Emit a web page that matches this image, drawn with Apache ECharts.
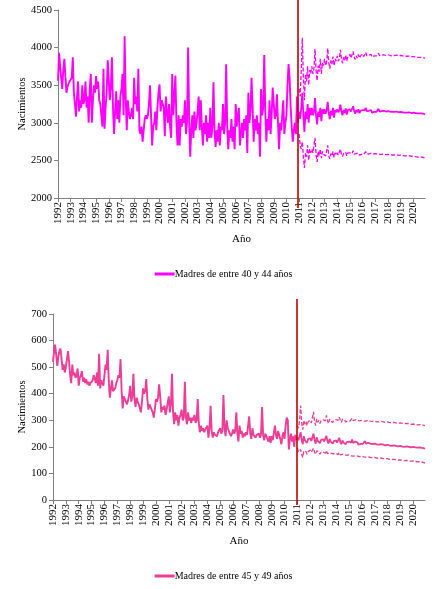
<!DOCTYPE html>
<html>
<head>
<meta charset="utf-8">
<script src="https://cdn.jsdelivr.net/npm/echarts@6/dist/echarts.min.js"></script>
<style>html,body{margin:0;padding:0;background:#fff}#c{width:447px;height:589px}</style>
</head>
<body>
<div id="c"></div>
<script>
// Years on the x axis (monthly categories Jan 1992 - Dec 2020)
const years = [1992,1993,1994,1995,1996,1997,1998,1999,2000,2001,2002,2003,2004,2005,2006,2007,2008,2009,2010,2011,2012,2013,2014,2015,2016,2017,2018,2019,2020];
const months = ['01','02','03','04','05','06','07','08','09','10','11','12'];
const cutCategory = '2010-12';

const yTicksTop = [2000, 2500, 3000, 3500, 4000, 4500];
const yTicksBottom = [0, 100, 200, 300, 400, 500, 600, 700];

const name40 = 'Madres de entre 40 y 44 años';
const name45 = 'Madres de entre 45 y 49 años';

// Observed births, mothers 40-44 (Jan 1992 - Dec 2010)
const hist40 = [
3560,3930,3750,3600,3450,3700,3850,3620,3400,3480,3520,3550,
3540,3600,3870,3400,3250,3080,3350,3550,3150,3300,3200,3500,
3250,3300,3550,3200,3350,3000,3450,3650,3000,3300,3500,3400,
3620,3450,3550,3300,3250,3100,2950,3720,2920,3200,3400,3830,
3830,3300,3500,3870,3200,2850,3150,3420,3050,3300,3000,3350,
3450,3650,3100,4150,3350,2900,3300,3150,3050,3100,3200,3050,
3600,3250,3350,3150,3720,2900,2850,2950,2750,2900,3050,3100,
3050,3100,3250,3500,3100,2700,2950,3000,3150,2900,3200,3400,
3510,3150,3300,3250,3200,2820,3350,3150,3000,3250,2950,2800,
3650,3100,3350,3630,3000,2700,3100,2700,3050,2950,3100,3000,
3300,2850,3000,4000,3050,2550,2900,3100,2800,3150,2900,3000,
3150,3350,2900,3300,2950,2700,3000,2850,3100,2750,3000,2800,
3200,2800,2950,3540,2900,2680,2900,2750,3000,2700,2950,2900,
3250,2850,3000,3780,2950,2650,2900,2800,3050,2750,2950,2650,
3250,2950,3100,3200,2700,2850,3000,2800,3050,2900,3100,2600,
3400,3000,3150,3600,3200,2750,3050,2900,3100,2850,3000,2550,
3450,3100,3200,3900,3150,2750,3050,2900,3300,2850,3100,3470,
3470,3050,3100,3380,3000,2650,3000,2900,3100,3300,2850,3000,
3100,3500,3780,3600,3200,2950,2750,2900,3000,2850,3350,3000
];
// Forecast 40-44 (Jan 2011 - Dec 2020): central, upper, lower
const med40 = [
3150,3050,3200,3400,3100,2880,3150,3050,3250,3000,3200,3100,
3200,3100,3150,3330,3100,2980,3150,3080,3200,3020,3180,3120,
3180,3120,3160,3280,3130,3050,3160,3100,3200,3070,3170,3140,
3180,3140,3170,3240,3150,3100,3170,3130,3190,3110,3170,3150,
3180,3150,3170,3220,3160,3120,3170,3140,3180,3130,3160,3150,
3170,3150,3165,3200,3155,3130,3160,3140,3170,3135,3155,3145,
3165,3145,3160,3185,3150,3135,3155,3140,3160,3135,3150,3140,
3155,3140,3150,3170,3145,3130,3145,3135,3150,3130,3140,3135,
3145,3135,3140,3155,3135,3125,3135,3128,3140,3122,3130,3125,
3135,3125,3130,3140,3125,3115,3125,3118,3125,3112,3118,3110
];
const up40 = [
3450,3350,3700,4130,3600,3300,3650,3550,3750,3500,3700,3650,
3750,3650,3720,3980,3700,3560,3760,3680,3850,3650,3800,3760,
3850,3760,3800,3990,3800,3720,3830,3780,3880,3760,3850,3820,
3890,3820,3850,3970,3850,3790,3870,3830,3900,3820,3880,3860,
3910,3860,3880,3950,3880,3840,3890,3860,3910,3860,3890,3880,
3915,3880,3895,3935,3890,3865,3900,3880,3910,3875,3895,3890,
3910,3890,3900,3925,3895,3880,3900,3885,3905,3880,3895,3890,
3905,3890,3895,3915,3890,3880,3895,3885,3900,3880,3890,3885,
3895,3885,3890,3900,3885,3875,3885,3878,3888,3872,3880,3875,
3880,3872,3876,3885,3870,3862,3870,3864,3870,3858,3862,3858
];
const lo40 = [
2850,2700,2650,2750,2550,2400,2600,2550,2700,2500,2650,2600,
2650,2600,2620,2800,2580,2480,2620,2560,2650,2530,2620,2580,
2600,2560,2580,2700,2560,2520,2590,2560,2620,2540,2600,2570,
2600,2570,2590,2650,2580,2550,2590,2570,2610,2560,2600,2580,
2600,2580,2590,2630,2585,2565,2590,2575,2600,2570,2590,2580,
2595,2580,2590,2615,2585,2570,2585,2575,2595,2570,2585,2578,
2590,2578,2585,2600,2580,2570,2580,2572,2585,2568,2578,2572,
2580,2570,2575,2590,2572,2562,2572,2565,2575,2560,2568,2562,
2570,2560,2565,2578,2560,2552,2560,2555,2562,2548,2555,2550,
2556,2548,2550,2560,2545,2538,2544,2538,2544,2532,2536,2530
];

// Observed births, mothers 45-49 (Jan 1992 - Dec 2010)
const hist45 = [
520,560,585,590,505,540,560,570,565,490,510,480,
500,530,560,520,470,440,510,470,480,460,470,495,
430,460,470,485,445,460,440,455,435,445,430,440,
440,450,470,475,440,480,430,550,420,450,440,430,
470,510,490,565,450,385,390,450,410,415,420,440,
450,470,460,530,410,345,390,380,370,360,375,395,
430,370,390,475,380,350,385,370,360,345,330,370,
420,400,410,455,380,340,360,350,345,330,310,340,
380,370,385,435,390,330,350,340,355,320,340,345,
390,330,360,475,330,285,330,300,320,280,310,320,
340,300,310,445,310,285,330,300,310,290,310,300,
320,290,300,380,290,255,280,260,270,255,265,260,
280,235,270,355,260,235,255,245,250,240,255,250,
270,250,260,395,270,240,300,270,260,250,240,250,
265,250,260,330,250,220,280,250,260,235,250,240,
255,245,250,315,250,230,270,245,250,235,245,240,
250,235,245,350,245,225,250,240,235,220,240,215,
240,225,230,280,245,230,260,245,230,210,240,255,
230,280,310,300,190,230,250,220,240,200,245,225
];
// Forecast 45-49 (Jan 2011 - Dec 2020): central, upper, lower
const med45 = [
235,225,230,255,225,210,240,225,230,215,230,225,
232,222,228,250,225,212,236,222,228,214,226,222,
228,220,224,242,222,212,230,220,224,212,222,218,
224,216,220,234,218,210,224,216,220,210,218,215,
220,214,216,228,215,208,220,213,216,208,214,211,
216,211,213,222,212,206,215,210,212,205,210,208,
212,208,209,216,208,203,210,206,208,202,206,204,
208,204,205,211,204,200,206,202,204,199,202,200,
204,200,201,206,200,197,202,198,200,196,198,197,
200,197,198,202,197,194,198,195,196,193,195,193
];
const up45 = [
280,270,300,355,290,265,300,285,295,280,295,290,
300,290,295,332,295,280,305,292,300,288,298,295,
302,295,298,318,298,288,305,296,302,292,300,298,
303,297,300,312,300,292,304,298,302,294,300,298,
302,297,299,308,299,293,302,297,300,294,298,297,
300,296,297,304,297,292,300,295,297,292,296,294,
297,293,294,300,294,290,296,292,294,290,292,291,
294,290,291,296,291,287,292,289,290,286,289,288,
290,287,288,292,287,284,288,285,287,283,285,284,
286,283,284,288,283,280,284,281,283,279,281,280
];
const lo45 = [
195,180,175,190,170,160,185,178,182,172,182,180,
188,180,183,195,180,172,185,178,182,172,180,176,
180,174,176,186,174,168,178,172,175,168,174,171,
175,170,171,179,170,165,172,168,170,164,168,166,
170,165,166,172,165,161,167,163,165,160,163,161,
165,161,162,167,161,157,162,159,160,156,159,157,
160,157,158,162,157,153,158,155,156,152,155,153,
156,153,153,157,153,149,153,151,152,148,150,149,
151,148,149,152,148,145,149,146,147,144,146,144,
147,144,145,148,144,141,144,142,143,140,141,139
];

const categories = [];
years.forEach(y => months.forEach(m => categories.push(y + '-' + m)));

const padEnd = a => a.concat(new Array(categories.length - a.length).fill(null));
const padStart = a => new Array(categories.length - a.length).fill(null).concat(a);

const COL40 = '#FF00FF';
const COL45 = '#EE3D96';
const RED = '#C00000';
const FONT = 'Liberation Serif';

function xAxisCfg(gi, gap) {
  return {
    type: 'category', gridIndex: gi, data: categories, boundaryGap: false,
    name: 'Año', nameLocation: 'middle', nameGap: gap,
    nameTextStyle: { fontFamily: FONT, fontSize: 11, color: '#000' },
    axisLine: { lineStyle: { color: '#808080', width: 1 } },
    axisTick: { show: true, interval: 11, length: 4, lineStyle: { color: '#808080' } },
    axisLabel: { interval: 11, rotate: 90, margin: 4, fontFamily: FONT, fontSize: 11, color: '#000',
      formatter: v => v.slice(0, 4) },
    splitLine: { show: false }
  };
}
function yAxisCfg(gi, ticks, gap) {
  return {
    type: 'value', gridIndex: gi, min: ticks[0], max: ticks[ticks.length - 1],
    interval: ticks[1] - ticks[0],
    name: 'Nacimientos', nameLocation: 'middle', nameGap: gap, nameRotate: 90, nameMoveOverlap: false,
    nameTextStyle: { fontFamily: FONT, fontSize: 10.5, color: '#000' },
    axisLine: { show: true, lineStyle: { color: '#808080', width: 1 } },
    axisTick: { show: true, length: 4, lineStyle: { color: '#808080' } },
    axisLabel: { margin: 6, fontFamily: FONT, fontSize: 10.5, color: '#000', formatter: v => String(v) },
    splitLine: { show: false }
  };
}
// hidden axes for the taller cut marker (reaches past the plot box, as in the original)
function hiddenX(gi) {
  return { type: 'category', gridIndex: gi, data: categories, boundaryGap: false, show: false };
}
function hiddenY(gi) {
  return { type: 'value', gridIndex: gi, min: 0, max: 1, show: false };
}
function seriesSet(gi, name, col, hist, med, up, lo) {
  const base = { type: 'line', xAxisIndex: gi, yAxisIndex: gi, showSymbol: false, symbol: 'none', silent: true, animation: false };
  return [
    Object.assign({}, base, { name: name, data: padEnd(hist), lineStyle: { color: col, width: 1.9 }, itemStyle: { color: col } }),
    Object.assign({}, base, { name: name + ' previsión', data: padStart(med), lineStyle: { color: col, width: 1.8 }, itemStyle: { color: col } }),
    Object.assign({}, base, { name: name + ' sup', data: padStart(up), lineStyle: { color: col, width: 1.3, type: [4, 2] }, itemStyle: { color: col } }),
    Object.assign({}, base, { name: name + ' inf', data: padStart(lo), lineStyle: { color: col, width: 1.3, type: [4, 2] }, itemStyle: { color: col } })
  ];
}
function cutSeries(gi) {
  return { type: 'line', name: 'corte' + gi, xAxisIndex: gi, yAxisIndex: gi, data: [], silent: true, animation: false,
    markLine: { symbol: 'none', silent: true, animation: false, label: { show: false },
      lineStyle: { color: RED, width: 1.6, type: 'solid' }, data: [{ xAxis: cutCategory }] } };
}

const chart = echarts.init(document.getElementById('c'), null, { renderer: 'canvas' });
chart.setOption({
  animation: false,
  backgroundColor: '#fff',
  grid: [
    { left: 58, right: 22, top: 10, height: 188 },
    { left: 53, right: 22, top: 314, height: 186 },
    { left: 58, right: 22, top: 0, height: 208 },
    { left: 53, right: 22, top: 299, height: 206 }
  ],
  xAxis: [xAxisCfg(0, 36), xAxisCfg(1, 36), hiddenX(2), hiddenX(3)],
  yAxis: [yAxisCfg(0, yTicksTop, 30), yAxisCfg(1, yTicksBottom, 25), hiddenY(2), hiddenY(3)],
  legend: [
    { data: [{ name: name40, icon: 'rect' }], top: 264, left: 'center', itemWidth: 20, itemHeight: 3, itemGap: 0,
      textStyle: { fontFamily: FONT, fontSize: 10, color: '#000', padding: [0, 0, 0, -5] }, selectedMode: false },
    { data: [{ name: name45, icon: 'rect' }], top: 566, left: 'center', itemWidth: 20, itemHeight: 3, itemGap: 0,
      textStyle: { fontFamily: FONT, fontSize: 10, color: '#000', padding: [0, 0, 0, -5] }, selectedMode: false }
  ],
  series: seriesSet(0, name40, COL40, hist40, med40, up40, lo40)
    .concat(seriesSet(1, name45, COL45, hist45, med45, up45, lo45))
    .concat([cutSeries(2), cutSeries(3)])
});
</script>
</body>
</html>
